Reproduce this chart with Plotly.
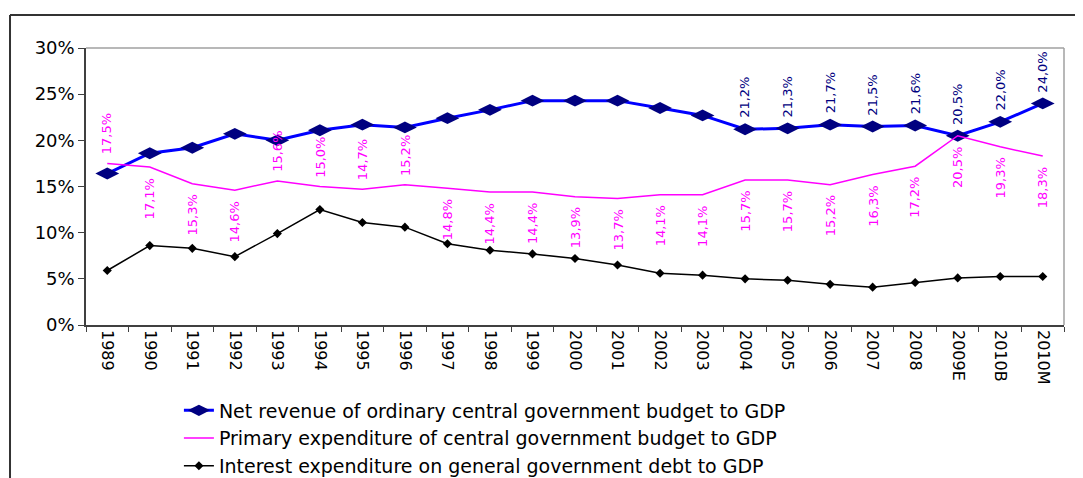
import plotly.graph_objects as go

years = ["1989", "1990", "1991", "1992", "1993", "1994", "1995", "1996", "1997", "1998",
         "1999", "2000", "2001", "2002", "2003", "2004", "2005", "2006", "2007", "2008",
         "2009E", "2010B", "2010M"]
net_revenue = [16.4, 18.6, 19.2, 20.7, 20.0, 21.1, 21.7, 21.4, 22.4, 23.3,
               24.3, 24.3, 24.3, 23.5, 22.7, 21.2, 21.3, 21.7, 21.5, 21.6,
               20.5, 22.0, 24.0]
primary_exp = [17.5, 17.1, 15.3, 14.6, 15.6, 15.0, 14.7, 15.2, 14.8, 14.4,
               14.4, 13.9, 13.7, 14.1, 14.1, 15.7, 15.7, 15.2, 16.3, 17.2,
               20.5, 19.3, 18.3]
interest_exp = [5.9, 8.6, 8.3, 7.4, 9.9, 12.5, 11.1, 10.6, 8.8, 8.1,
                7.7, 7.2, 6.5, 5.6, 5.4, 5.0, 4.85, 4.4, 4.1, 4.6,
                5.1, 5.25, 5.25]
y_ticks = [0, 5, 10, 15, 20, 25, 30]
y_tick_labels = ["0%", "5%", "10%", "15%", "20%", "25%", "30%"]

# label placement for the primary expenditure series (True = above line)
primary_above = [True, False, False, False, True, True, True, True, False, False,
                 False, False, False, False, False, False, False, False, False, False,
                 False, False, False]
revenue_label_from = 15  # labels shown from 2004 on

FONT = "DejaVu Sans"

def fmt(v):
    return f"{v:.1f}".replace(".", ",") + "%"

fig = go.Figure()
fig.add_trace(go.Scatter(
    x=years, y=net_revenue, mode="lines+markers",
    name="Net revenue of ordinary central government budget to GDP",
    line=dict(color="#0000FF", width=3),
    marker=dict(symbol="diamond-wide", size=17, color="#000080"),
    legendgroup="a"))
fig.add_trace(go.Scatter(
    x=years, y=primary_exp, mode="lines",
    name="Primary expenditure of central government budget to GDP",
    line=dict(color="#FF00FF", width=1.5),
    legendgroup="b"))
fig.add_trace(go.Scatter(
    x=years, y=interest_exp, mode="lines+markers",
    name="Interest expenditure on general government debt to GDP",
    line=dict(color="#000000", width=1.5),
    marker=dict(symbol="diamond", size=7, color="#000000"),
    legendgroup="c"))

annotations = []
for i, v in enumerate(primary_exp):
    above = primary_above[i]
    annotations.append(dict(
        x=i, y=v, xref="x", yref="y", text=fmt(v), showarrow=False,
        textangle=-90, font=dict(family=FONT, size=13, color="#FF00FF"),
        xanchor="center", yanchor="bottom" if above else "top",
        yshift=7 if above else -9))
for i, v in enumerate(net_revenue):
    if i >= revenue_label_from:
        annotations.append(dict(
            x=i, y=v, xref="x", yref="y", text=fmt(v), showarrow=False,
            textangle=-90, font=dict(family=FONT, size=13, color="#000080"),
            xanchor="center", yanchor="bottom", yshift=9))

# plot area spans 978 x 277 px
shapes = [
    dict(type="line", xref="paper", yref="paper", x0=0, x1=1, y0=1, y1=1,
         line=dict(color="#A0A0A0", width=1.5)),
    dict(type="line", xref="paper", yref="paper", x0=1, x1=1, y0=0, y1=1,
         line=dict(color="#A0A0A0", width=1.5)),
    dict(type="line", xref="paper", yref="paper", x0=-0.0777, x1=-0.0777, y0=-0.7, y1=1.119,
         line=dict(color="#333333", width=2)),
    dict(type="line", xref="paper", yref="paper", x0=-0.0777, x1=1.03, y0=1.119, y1=1.119,
         line=dict(color="#333333", width=2)),
]

fig.update_layout(
    width=1075, height=470,
    margin=dict(l=78, r=19, t=40, b=153, autoexpand=False),
    paper_bgcolor="white", plot_bgcolor="white",
    font=dict(family=FONT, color="#000000"),
    showlegend=True,
    legend=dict(x=0.095, y=-0.24, xanchor="left", yanchor="top",
                font=dict(family=FONT, size=19, color="#000000"),
                traceorder="grouped", tracegroupgap=0,
                bgcolor="rgba(0,0,0,0)"),
    annotations=annotations,
    shapes=shapes,
)
fig.update_xaxes(
    type="category", range=[-0.5, len(years) - 0.5],
    showline=True, linecolor="#404040", linewidth=1.5,
    ticks="outside", tickson="boundaries", ticklen=5, tickcolor="#404040",
    tickangle=90, tickfont=dict(family=FONT, size=16, color="#000000"),
    showgrid=False, zeroline=False)
fig.update_yaxes(
    range=[0, 30], tickvals=y_ticks, ticktext=y_tick_labels,
    showline=True, linecolor="#404040", linewidth=1.5,
    ticks="outside", ticklen=6, tickcolor="#404040",
    tickfont=dict(family=FONT, size=18, color="#000000"),
    showgrid=False, zeroline=False)

fig.write_html("out.html")
